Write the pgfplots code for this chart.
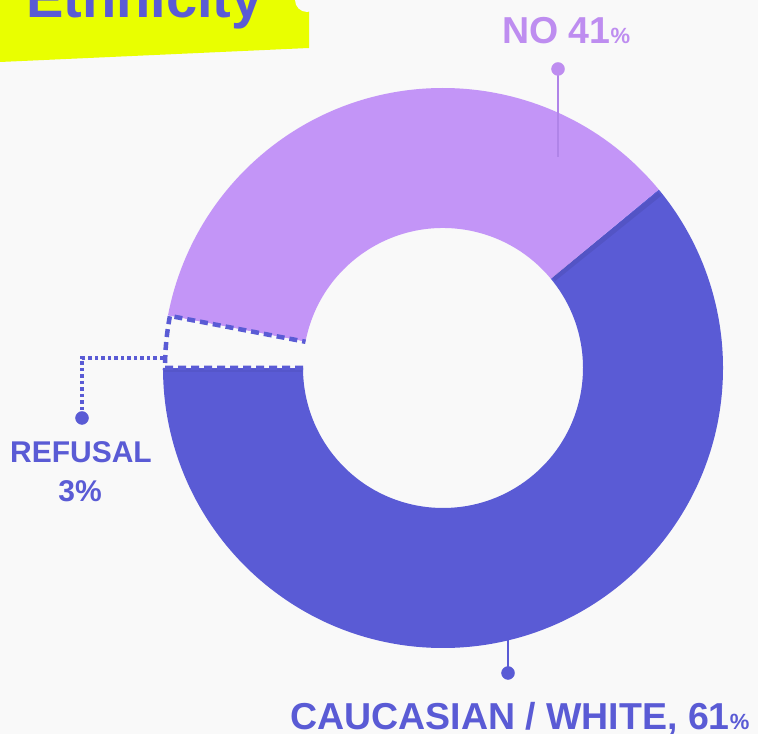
\documentclass[border=0pt]{standalone}
\usepackage{pgfplots}
\usepackage{pgfplotstable}
\pgfplotsset{compat=1.18}
\usepackage{fontspec}
\setmainfont{Liberation Sans}
\definecolor{bg}{HTML}{F9F9F9}
\definecolor{cauc}{HTML}{5A5BD5}
\definecolor{nocol}{HTML}{C395F7}
\definecolor{nolab}{HTML}{BE8DF0}
\definecolor{noline}{HTML}{B084E8}
\definecolor{ttl}{HTML}{E9FF00}
\pgfplotstableread{
label value
Caucasian 61
No 36
Refusal 3
}\datatable
\begin{document}
\begin{tikzpicture}
\pgfplotstablegetelem{0}{value}\of\datatable \edef\vC{\pgfplotsretval}
\pgfplotstablegetelem{1}{value}\of\datatable \edef\vN{\pgfplotsretval}
\pgfplotstablegetelem{2}{value}\of\datatable \edef\vR{\pgfplotsretval}
\pgfmathsetmacro\aA{180}
\pgfmathsetmacro\aB{\aA+\vC*3.6}
\pgfmathsetmacro\aC{\aB+\vN*3.6}
\pgfmathsetmacro\aD{\aC+\vR*3.6}
\def\cx{443}\def\cy{366}
\newcommand\ring[3]{%
  \fill[#1] ([shift={(#2:280bp)}]axis cs:\cx,\cy) arc[start angle=#2,end angle=#3,radius=280bp]
    -- ([shift={(#3:140bp)}]axis cs:\cx,\cy) arc[start angle=#3,end angle=#2,radius=140bp] -- cycle;}
\begin{axis}[scale only axis, width=758bp, height=734bp,
  xmin=0, xmax=758, ymin=0, ymax=734, enlargelimits=false, hide axis, clip=true]
\fill[bg] (axis cs:0,0) rectangle (axis cs:758,734);
% title box
\fill[ttl] (axis cs:0,734) -- (axis cs:309,734) -- (axis cs:309,686) -- (axis cs:0,672) -- cycle;
\fill[bg] (axis cs:307,734) circle[radius=12bp];
\node[anchor=base west, inner sep=0, text=cauc, font=\fontsize{56bp}{60bp}\selectfont\bfseries] at (axis cs:26,716.5) {Ethnicity};
% donut
\ring{cauc}{\aA}{\aB}
\ring{nocol}{\aB}{\aC}
\ring{bg}{\aC}{\aD}
% soft shadow along the Caucasian / No boundary
\draw[black, opacity=0.07, line width=5bp]
  ([shift={(\aB-0.8:142bp)}]axis cs:\cx,\cy) -- ([shift={(\aB-0.8:278bp)}]axis cs:\cx,\cy);
\draw[black, opacity=0.05, line width=3bp]
  ([shift={(\aA:141bp)}]axis cs:\cx,\cy+-3) -- ([shift={(\aA:279bp)}]axis cs:\cx,\cy+-3);
% refusal dashed outline
\draw[cauc, line width=4.5bp, dash pattern=on 8bp off 5bp]
  ([shift={(\aD:140bp)}]axis cs:\cx,\cy) -- ([shift={(\aD:278bp)}]axis cs:\cx,\cy)
  arc[start angle=\aD, end angle=\aC, radius=278bp] -- ([shift={(\aC:140bp)}]axis cs:\cx,\cy);
% connectors
\addplot[noline, line width=2bp] coordinates {(558,665) (558,577)};
\addplot[only marks, mark=*, mark size=6.5bp, nolab] coordinates {(558,665)};
\addplot[cauc, line width=2.5bp] coordinates {(508,61) (508,94)};
\addplot[only marks, mark=*, mark size=6.5bp, cauc] coordinates {(508,61)};
\addplot[cauc, line width=3.5bp, dash pattern=on 3.5bp off 3bp] coordinates {(163,376) (82,376) (82,318)};
\addplot[only marks, mark=*, mark size=6.5bp, cauc] coordinates {(82,316)};
% labels
\node[anchor=base west, inner sep=0, text=nolab, font=\fontsize{37.5bp}{40bp}\selectfont\bfseries] at (axis cs:502,690) {NO 41{\fontsize{22bp}{24bp}\selectfont\%}};
\node[anchor=base west, inner sep=0, text=cauc, font=\fontsize{37.5bp}{40bp}\selectfont\bfseries] at (axis cs:290,5) {CAUCASIAN / WHITE, 61{\fontsize{22bp}{24bp}\selectfont\%}};
\node[anchor=base, inner sep=0, text=cauc, font=\fontsize{30bp}{32bp}\selectfont\bfseries] at (axis cs:81,271) {REFUSAL};
\node[anchor=base, inner sep=0, text=cauc, font=\fontsize{30bp}{32bp}\selectfont\bfseries] at (axis cs:80,232) {3\%};
\end{axis}
\pgfresetboundingbox
\path (0,0) rectangle (758bp,734bp);
\end{tikzpicture}
\end{document}
